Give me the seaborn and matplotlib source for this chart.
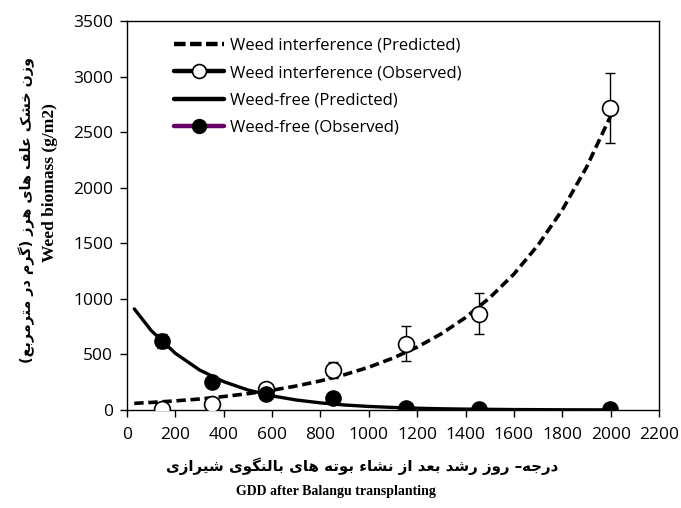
import numpy as np
import pandas as pd
import matplotlib
matplotlib.use("Agg")
import matplotlib.pyplot as plt
import seaborn as sns
from matplotlib.lines import Line2D

# ---------------- data ----------------
obs_gdd = [144, 350, 576, 850, 1152, 1455, 1998]
wi_obs = [9, 54, 192, 360, 598, 868, 2720]
wi_err = [0, 0, 0, 70, 160, 185, 315]
wf_obs = [622, 255, 141, 108, 15, 12, 8]
wf_err = [65, 40, 0, 0, 0, 0, 0]

pred_gdd = [30, 100, 200, 300, 400, 500, 600, 700, 800, 900, 1000, 1100, 1200,
            1300, 1400, 1500, 1600, 1700, 1800, 1900, 2000]
wi_pred = [60, 68, 82, 99, 121, 147, 178, 216, 262, 318, 385, 467, 566,
           686, 832, 1010, 1223, 1484, 1800, 2183, 2646]
wf_pred = [910, 715, 510, 360, 255, 180, 127, 90, 64, 45, 32, 23, 16,
           11, 8, 6, 4, 3, 2, 1.5, 1]

x_ticks = [0, 200, 400, 600, 800, 1000, 1200, 1400, 1600, 1800, 2000, 2200]
y_ticks = [0, 500, 1000, 1500, 2000, 2500, 3000, 3500]

legend_labels = ["Weed interference (Predicted)", "Weed interference (Observed)",
                 "Weed-free (Predicted)", "Weed-free (Observed)"]

y_label_fa = "وزن خشک علف های هرز (گرم در مترمربع)"
y_label_en = "Weed biomass (g/m2)"
x_label_fa = "درجه– روز رشد بعد از نشاء بوته های بالنگوی شیرازی"
x_label_en = "GDD after Balangu transplanting"

# ---------------- simple Persian shaping (presentation forms) ----------------
FORMS = {
    'ا': ('\uFE8D', '\uFE8E', None, None),
    'ب': ('\uFE8F', '\uFE90', '\uFE91', '\uFE92'),
    'ت': ('\uFE95', '\uFE96', '\uFE97', '\uFE98'),
    'ج': ('\uFE9D', '\uFE9E', '\uFE9F', '\uFEA0'),
    'خ': ('\uFEA5', '\uFEA6', '\uFEA7', '\uFEA8'),
    'د': ('\uFEA9', '\uFEAA', None, None),
    'ر': ('\uFEAD', '\uFEAE', None, None),
    'ز': ('\uFEAF', '\uFEB0', None, None),
    'ش': ('\uFEB5', '\uFEB6', '\uFEB7', '\uFEB8'),
    'ع': ('\uFEC9', '\uFECA', '\uFECB', '\uFECC'),
    'ف': ('\uFED1', '\uFED2', '\uFED3', '\uFED4'),
    'ل': ('\uFEDD', '\uFEDE', '\uFEDF', '\uFEE0'),
    'م': ('\uFEE1', '\uFEE2', '\uFEE3', '\uFEE4'),
    'ن': ('\uFEE5', '\uFEE6', '\uFEE7', '\uFEE8'),
    'ه': ('\uFEE9', '\uFEEA', '\uFEEB', '\uFEEC'),
    'و': ('\uFEED', '\uFEEE', None, None),
    'ء': ('\uFE80', None, None, None),
    'ک': ('\uFB8E', '\uFB8F', '\uFB90', '\uFB91'),
    'گ': ('\uFB92', '\uFB93', '\uFB94', '\uFB95'),
    'ی': ('\uFBFC', '\uFBFD', '\uFBFE', '\uFBFF'),
}


def shape(text):
    out = []
    n = len(text)
    for i, c in enumerate(text):
        if c not in FORMS:
            out.append(c)
            continue
        f = FORMS[c]
        prev_j = (i > 0 and text[i - 1] in FORMS and FORMS[text[i - 1]][2] is not None
                  and f[1] is not None)
        next_j = (i < n - 1 and text[i + 1] in FORMS and FORMS[text[i + 1]][1] is not None
                  and f[2] is not None)
        if prev_j and next_j:
            out.append(f[3])
        elif prev_j:
            out.append(f[1])
        elif next_j:
            out.append(f[2])
        else:
            out.append(f[0])
    return "".join(out)


def rtl(text):
    s = shape(text)[::-1]
    return s.translate(str.maketrans("()", ")("))


# ---------------- plot ----------------
sns.set_theme(style="white")
plt.rcParams["font.family"] = ["Open Sans", "DejaVu Sans"]
plt.rcParams["text.color"] = "black"
plt.rcParams["axes.labelcolor"] = "black"
plt.rcParams["xtick.color"] = "black"
plt.rcParams["ytick.color"] = "black"

fig = plt.figure(figsize=(6.81, 5.08), dpi=100)
ax = fig.add_axes([127 / 681, 1 - 410 / 508, 532 / 681, 389 / 508])

pred_df = pd.DataFrame({"gdd": pred_gdd, "wi": wi_pred, "wf": wf_pred})
obs_df = pd.DataFrame({"gdd": obs_gdd, "wi": wi_obs, "wf": wf_obs,
                       "wi_err": wi_err, "wf_err": wf_err})

sns.lineplot(data=pred_df, x="gdd", y="wf", ax=ax, color="black", lw=2.4,
             zorder=3, legend=False)
sns.lineplot(data=pred_df, x="gdd", y="wi", ax=ax, color="black", lw=2.6,
             zorder=3, legend=False)
ax.lines[-1].set_dashes([2.6, 1.3])

ax.errorbar(obs_df["gdd"], obs_df["wi"], yerr=obs_df["wi_err"], fmt="none",
            ecolor="black", elinewidth=1.0, capsize=3.3, capthick=1.0, zorder=4)
ax.errorbar(obs_df["gdd"], obs_df["wf"], yerr=obs_df["wf_err"], fmt="none",
            ecolor="black", elinewidth=1.0, capsize=3.3, capthick=1.0, zorder=4)
sns.scatterplot(data=obs_df, x="gdd", y="wi", ax=ax, s=130, marker="o",
                facecolor="white", edgecolor="black", linewidth=1.2, zorder=5,
                legend=False)
sns.scatterplot(data=obs_df, x="gdd", y="wf", ax=ax, s=120, marker="o",
                color="black", edgecolor="black", linewidth=1.0, zorder=5,
                legend=False)

ax.set_xlim(0, 2200)
ax.set_ylim(0, 3500)
ax.set_xticks(x_ticks)
ax.set_yticks(y_ticks)
ax.set_xticklabels([str(t) for t in x_ticks])
ax.set_yticklabels([str(t) for t in y_ticks])
ax.set_xlabel("")
ax.set_ylabel("")
ax.tick_params(axis="both", which="both", direction="out", length=5, width=1,
               color="black", labelsize=12.5, labelcolor="black", pad=4,
               bottom=True, left=True)
ax.tick_params(axis="x", pad=7)
ax.tick_params(axis="y", pad=5)
for sp in ax.spines.values():
    sp.set_color("black")
    sp.set_linewidth(1.0)
    sp.set_visible(True)

handles = [
    Line2D([], [], color="black", lw=3.2, dashes=[2.6, 1.0]),
    Line2D([], [], color="black", lw=3.2, marker="o", markersize=10,
           markerfacecolor="white", markeredgecolor="black", markeredgewidth=1.2),
    Line2D([], [], color="black", lw=3.2),
    Line2D([], [], color="#660066", lw=3.2, marker="o", markersize=10,
           markerfacecolor="black", markeredgecolor="black"),
]
ax.legend(handles, legend_labels, loc="upper left",
          bbox_to_anchor=(174 / 681, 1 - 38 / 508), bbox_transform=fig.transFigure,
          frameon=False, fontsize=12, handlelength=3.0, handletextpad=0.35,
          labelspacing=0.68, borderaxespad=0, borderpad=0)

# axis titles
fig.text(27 / 681, 1 - 210 / 508, rtl(y_label_fa), rotation=90, ha="center",
         va="center", fontsize=10.4, fontweight="bold", family=["DejaVu Sans"])
fig.text(50 / 681, 1 - 183 / 508, y_label_en, rotation=90, ha="center",
         va="center", fontsize=12.5, fontweight="bold", family=["Liberation Serif"])
fig.text(362 / 681, 1 - 466 / 508, rtl(x_label_fa), ha="center", va="center",
         fontsize=10.8, fontweight="bold", family=["DejaVu Sans"])
fig.text(336 / 681, 1 - 492 / 508, x_label_en, ha="center", va="center",
         fontsize=10, fontweight="bold", family=["Liberation Serif"])

fig.savefig("out.png", dpi=100)
